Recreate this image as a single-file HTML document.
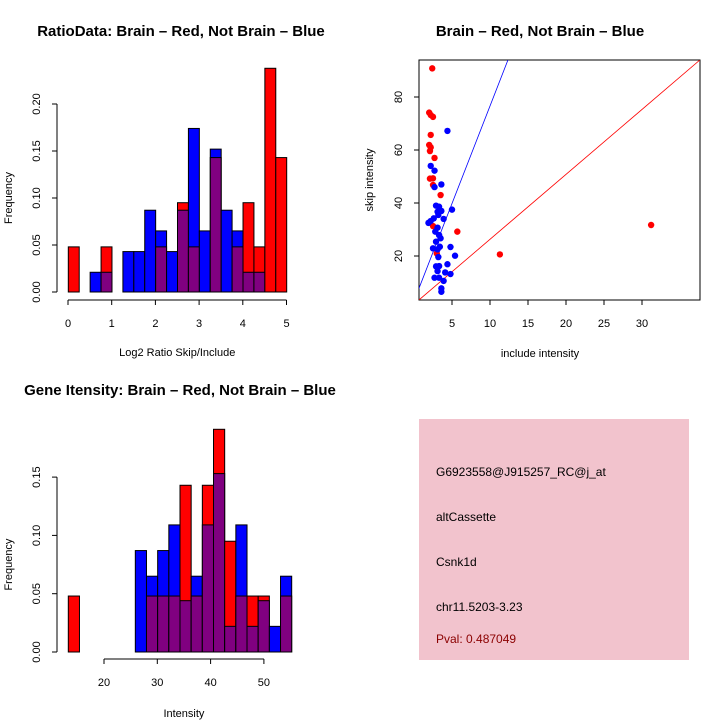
<!DOCTYPE html>
<html><head><meta charset="utf-8"><style>
body{margin:0;background:#fff}
svg{display:block;font-family:"Liberation Sans",sans-serif}
</style></head><body>
<svg id="chart" width="720" height="720" viewBox="0 0 720 720" xmlns="http://www.w3.org/2000/svg">
<text x="181" y="36" text-anchor="middle" font-size="15" font-weight="bold">RatioData: Brain – Red, Not Brain – Blue</text>
<text x="540" y="36" text-anchor="middle" font-size="15" font-weight="bold">Brain – Red, Not Brain – Blue</text>
<text x="180" y="395" text-anchor="middle" font-size="15" font-weight="bold">Gene Itensity: Brain – Red, Not Brain – Blue</text>
<g id="h1"></g>
<g id="h2"></g>
<g id="sc"></g>
<g>
<rect x="419" y="419" width="270" height="241" fill="#f2c3cd"/>
<text x="436" y="476" font-size="12">G6923558@J915257_RC@j_at</text>
<text x="436" y="521" font-size="12">altCassette</text>
<text x="436" y="566" font-size="12">Csnk1d</text>
<text x="436" y="611" font-size="12">chr11.5203-3.23</text>
<text x="436" y="643" font-size="12" fill="#8b0000">Pval: 0.487049</text>
</g>
</svg>
<script>
// Ratio histogram data (bins of 0.25 starting at 0)
const ratioRed  = [0.048,0,0,0.048,0,0,0,0,0.048,0,0.095,0.048,0,0.143,0,0.048,0.095,0.048,0.238,0.143];
const ratioBlue = [0,0,0.021,0.021,0,0.043,0.043,0.087,0.065,0.043,0.087,0.174,0.065,0.152,0.087,0.065,0.021,0.021,0,0];
const ratioXTicks = [0,1,2,3,4,5];
const ratioYTicks = ["0.00","0.05","0.10","0.15","0.20"];
// Intensity histogram data
const intRed  = [0.048,0,0,0,0,0,0,0.048,0.048,0.048,0.143,0.048,0.143,0.191,0.095,0.048,0.048,0.048,0,0.048];
const intBlue = [0,0,0,0,0,0,0.087,0.065,0.087,0.109,0.044,0.065,0.109,0.153,0.022,0.109,0.022,0.044,0.022,0.065];
const intXTicks = [20,30,40,50];
const intYTicks = ["0.00","0.05","0.10","0.15"];
// Scatter data
const redX = [2.4,2.0,2.2,2.5,2.2,2.0,2.2,2.1,2.7,2.1,2.5,2.5,3.5,2.5,5.7,3.0,11.3,31.2];
const redY = [90.8,74.1,73.2,72.5,65.7,61.9,61,59.6,57,49.2,49.3,46.8,43,31.3,29.2,21,20.6,31.7];
const blueX = [4.4,2.2,2.7,2.7,3.6,5.0,2.9,3.3,3.6,3.1,3.2,3.9,2.6,2.2,1.9,3.1,2.8,3.3,3.5,2.9,3.4,2.5,3.1,4.8,5.4,3.2,4.4,2.9,3.3,3.1,4.1,4.8,2.7,3.3,3.9,3.6,3.6];
const blueY = [67.2,54,52.2,46,47,37.5,39,38.6,37,36.7,35.5,34,34.2,33.2,32.5,30.7,29.2,27.9,26.7,25.4,23.5,22.9,22.5,23.4,20.1,19.6,16.9,16.1,16.2,14.3,13.8,13.2,11.8,11.8,10.6,7.8,6.5];
const scXTicks = [5,10,15,20,25,30];
const scYTicks = [20,40,60,80];
const redLine = [1.8,2.45];   // intercept, slope
const blueLine = [3.0,7.36];

const NS="http://www.w3.org/2000/svg";
function mk(parent,tag,attrs){const e=document.createElementNS(NS,tag);for(const k in attrs)e.setAttribute(k,attrs[k]);parent.appendChild(e);return e;}

function hist(g,red,blue,x0,binPx,yBase,pxPerUnit,xTicks,xScale,yTicks,yStep,xLabel,axisY,yAxisX,xLabelY){
  for(let i=0;i<red.length;i++){
    const r=red[i],b=blue[i];const x=x0+i*binPx;
    const hi=Math.max(r,b),lo=Math.min(r,b);
    if(hi>0){const rc=mk(g,'rect',{x:x,y:yBase-hi*pxPerUnit,width:binPx,height:hi*pxPerUnit,fill:r>=b?'#ff0000':'#0000ff',stroke:'#000','stroke-width':1});
      
      }
    if(lo>0){const pc=mk(g,'rect',{x:x,y:yBase-lo*pxPerUnit,width:binPx,height:lo*pxPerUnit,fill:'#800080',stroke:'#000','stroke-width':1});
      
      }
  }
  const xs=xTicks.map(xScale);
  mk(g,'line',{x1:xs[0],x2:xs[xs.length-1],y1:axisY,y2:axisY,stroke:'#000'});
  xTicks.forEach((t,i)=>{mk(g,'line',{x1:xs[i],x2:xs[i],y1:axisY,y2:axisY+5,stroke:'#000'});
    const tx=mk(g,'text',{x:xs[i],y:axisY+27,'text-anchor':'middle','font-size':11});tx.textContent=t;
    
    });
  const ys=yTicks.map((t,i)=>yBase-i*yStep*pxPerUnit);
  mk(g,'line',{x1:yAxisX,x2:yAxisX,y1:ys[0],y2:ys[ys.length-1],stroke:'#000'});
  yTicks.forEach((t,i)=>{mk(g,'line',{x1:yAxisX,x2:yAxisX-5,y1:ys[i],y2:ys[i],stroke:'#000'});
    const tx=mk(g,'text',{x:yAxisX-17,y:ys[i],'text-anchor':'middle','font-size':11,transform:`rotate(-90 ${yAxisX-17} ${ys[i]})`});tx.textContent=t;
    
    });
  const xl=mk(g,'text',{x:(xs[0]+xs[xs.length-1])/2,y:xLabelY,'text-anchor':'middle','font-size':11});xl.textContent=xLabel;
  
  
  const yc=(ys[0]+ys[ys.length-1])/2;
  const yl=mk(g,'text',{x:12,y:yc,'text-anchor':'middle','font-size':11,transform:`rotate(-90 12 ${yc})`});yl.textContent='Frequency';
  
  
}
hist(document.getElementById('h1'),ratioRed,ratioBlue,68.3,10.92,292,940,ratioXTicks,v=>68+v*43.7,ratioYTicks,0.05,'Log2 Ratio Skip/Include',300,57,356);
hist(document.getElementById('h2'),intRed,intBlue,68.3,11.17,652,1166,intXTicks,v=>104+(v-20)*5.33,intYTicks,0.05,'Intensity',659,57,717);

// scatter
const sc=document.getElementById('sc');
const sx=v=>414+v*7.6, sy=v=>309-v*2.65;
mk(sc,'rect',{x:419,y:60,width:281,height:240,fill:'none',stroke:'#000'});
const cp=mk(sc,'clipPath',{id:'cp'});mk(cp,'rect',{x:419,y:60,width:281,height:240});
const ln=mk(sc,'g',{'clip-path':'url(#cp)'});
[[redLine,'#ff0000'],[blueLine,'#0000ff']].forEach(([L,c])=>{const x1=0,x2=40;
  const l=mk(ln,'line',{x1:sx(x1),y1:sy(L[0]+L[1]*x1),x2:sx(x2),y2:sy(L[0]+L[1]*x2),stroke:c,'stroke-width':0.8});
  
  });
redX.forEach((x,i)=>{const c=mk(sc,'circle',{cx:sx(x),cy:sy(redY[i]),r:3.2,fill:'#ff0000'});
  
  });
blueX.forEach((x,i)=>{const c=mk(sc,'circle',{cx:sx(x),cy:sy(blueY[i]),r:3.2,fill:'#0000ff'});
  
  });
scXTicks.forEach(t=>{mk(sc,'line',{x1:sx(t),x2:sx(t),y1:300,y2:305,stroke:'#000'});
  const tx=mk(sc,'text',{x:sx(t),y:327,'text-anchor':'middle','font-size':11});tx.textContent=t;
  
  });
scYTicks.forEach(t=>{mk(sc,'line',{x1:419,x2:414,y1:sy(t),y2:sy(t),stroke:'#000'});
  const tx=mk(sc,'text',{x:402,y:sy(t),'text-anchor':'middle','font-size':11,transform:`rotate(-90 402 ${sy(t)})`});tx.textContent=t;
  
  });
const sxl=mk(sc,'text',{x:540,y:357,'text-anchor':'middle','font-size':11});sxl.textContent='include intensity';


const syl=mk(sc,'text',{x:373,y:180,'text-anchor':'middle','font-size':11,transform:'rotate(-90 373 180)'});syl.textContent='skip intensity';


</script>
</body></html>
